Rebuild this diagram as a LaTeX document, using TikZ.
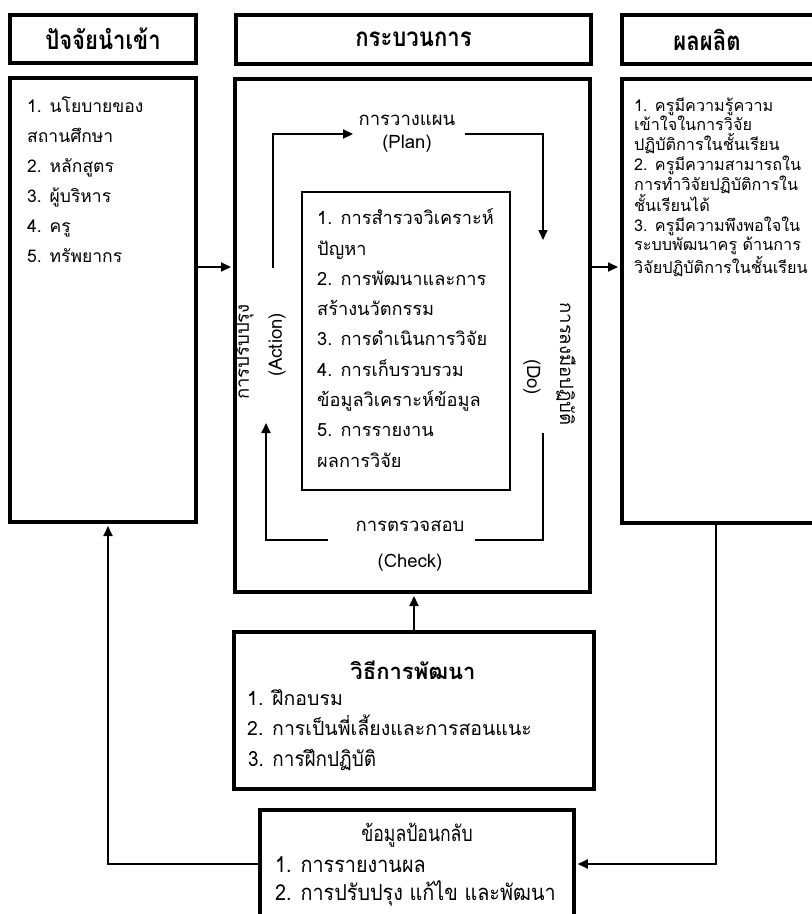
\documentclass[tikz,border=0pt]{standalone}
\usepackage{fontspec}
\setmainfont{Loma}[Script=Thai]
\newfontfamily\thaicond{Loma}[Script=Thai,FakeStretch=0.8]
\newfontfamily\thaisemi{Loma}[Script=Thai,FakeStretch=0.9]
\newfontfamily\thaihdr{Loma}[Script=Thai,FakeStretch=0.85]
\usetikzlibrary{arrows.meta,fit,calc}
\begin{document}
\begin{tikzpicture}[x=1pt,y=-1pt,
  hdr/.style={draw, line width=4.5pt, inner sep=0pt},
  bigbox/.style={draw, line width=4pt, inner sep=0pt},
  midbox/.style={draw, line width=3.5pt, inner sep=0pt},
  thinbox/.style={draw, line width=1.5pt, inner sep=0pt},
  hdrtext/.style={font=\thaihdr\bfseries\fontsize{26}{30}\selectfont, inner sep=0pt},
  lefttext/.style={font=\fontsize{17.5}{30}\selectfont, align=left, inner sep=0pt, anchor=west},
  innertext/.style={font=\fontsize{18.2}{30.3}\selectfont, align=left, inner sep=0pt, anchor=west},
  righttext/.style={font=\fontsize{16.2}{19.7}\selectfont, align=left, inner sep=0pt, anchor=west},
  devtext/.style={font=\fontsize{19.5}{30}\selectfont, align=left, inner sep=0pt, anchor=west},
  devcond/.style={font=\thaisemi\fontsize{21}{24}\selectfont, inner sep=0pt, anchor=west},
  fbtitle/.style={font=\thaicond\fontsize{22}{28}\selectfont, inner sep=0pt},
  fbtext/.style={font=\thaisemi\fontsize{22}{28}\selectfont, align=left, inner sep=0pt, anchor=west},
  lbl/.style={font=\fontsize{18.5}{22}\selectfont, inner sep=0pt},
  tip/.style={-{Triangle[length=10pt,width=9pt]}},
  arr/.style={line width=2pt, tip, shorten >=2pt},
  cyc/.style={line width=1.8pt},
  cycarr/.style={cyc, tip},
]
\useasboundingbox (0,0) rectangle (812,914);
\fill[white] (0,0) rectangle (812,914);

% header boxes
\node[hdr, fit={(10,15) (196,63)}] (h1) {};
\node[hdr, fit={(236,15) (591,64)}] (h2) {};
\node[hdr, fit={(622,15) (830,64)}] (h3) {};
\node[hdrtext] (h1t) at (h1) {ปัจจัยนำเข้า};
\node[hdrtext] (h2t) at (h2) {กระบวนการ};
\node[hdrtext] (h3t) at (707,39.5) {ผลผลิต};

% main boxes
\node[bigbox, fit={(10,78) (196,522)}] (L) {};
\node[bigbox, fit={(235,79) (590,592)}] (M) {};
\node[bigbox, fit={(622,79) (830,523)}] (R) {};
\node[thinbox, fit={(302,192) (510,490)}] (I) {};
\node[midbox, fit={(234,632) (594,789)}] (D) {};
\node[midbox, fit={(260,810) (574,935)}] (F) {};

% texts
\node[lefttext] (Ltext) at (27,180) {1. นโยบายของ\\สถานศึกษา\\2. หลักสูตร\\3. ผู้บริหาร\\4. ครู\\5. ทรัพยากร};
\node[innertext] (Itext) at (317,338) {1. การสำรวจวิเคราะห์\\ปัญหา\\2. การพัฒนาและการ\\สร้างนวัตกรรม\\3. การดำเนินการวิจัย\\4. การเก็บรวบรวม\\ข้อมูลวิเคราะห์ข้อมูล\\5. การรายงาน\\ผลการวิจัย};
\node[righttext] (Rtext) at (634,187) {1. ครูมีความรู้ความ\\เข้าใจในการวิจัย\\ปฏิบัติการในชั้นเรียน\\2. ครูมีความสามารถใน\\การทำวิจัยปฏิบัติการใน\\ชั้นเรียนได้\\3. ครูมีความพึงพอใจใน\\ระบบพัฒนาครู ด้านการ\\วิจัยปฏิบัติการในชั้นเรียน};

\node[font=\bfseries\fontsize{22}{24}\selectfont, inner sep=0pt] (Dt) at (413,670) {วิธีการพัฒนา};
\node[devtext] (Dtext) at (247,713) {1. ฝึกอบรม\\2. การเป็นพี่เลี้ยงและการสอนแนะ};
\node[devcond] (Dtext3) at (248,760) {3. การฝึกปฏิบัติ};

\node[fbtitle] (Ft) at (417,835) {ข้อมูลป้อนกลับ};
\node[fbtext] (Ftext) at (275,881) {1. การรายงานผล\\2. การปรับปรุง แก้ไข และพัฒนา};

% PDCA labels
\node[lbl, align=center] (plan) at (407,133.5) {การวางแผน\\[1pt](Plan)};
\node[lbl, align=center] (check) at (410,546) {การตรวจสอบ\\[14pt](Check)};
\node[lbl, rotate=90] (act1) at (244,352) {การปรับปรุง};
\node[lbl, rotate=90] (act2) at (277,345) {(Action)};
\node[lbl, rotate=-90] (do1) at (566,364) {การลงมือปฏิบัติ};
\node[lbl, rotate=-90] (do2) at (532,377) {(Do)};

% PDCA arrows
\coordinate (pa) at (273,268); \coordinate (pb) at (273,134); \coordinate (pc) at (353,134);
\coordinate (da) at (465,134); \coordinate (db) at (543,134); \coordinate (dc) at (543,240);
\coordinate (ca) at (543,433); \coordinate (cb) at (543,540); \coordinate (cc) at (475,540);
\coordinate (aa) at (328,540); \coordinate (ab) at (266,540); \coordinate (ac) at (266,423);
\draw[cycarr, line width=2.2pt] (pa) -- (pb) -- (pc);
\draw[cycarr, line width=1.6pt] (da) -- (db) -- (dc);
\draw[cyc, line width=1.6pt] (ca) -- (cb) -- (cc);
\draw[cycarr] (aa) -- (ab) -- (ac);

% connectors
\coordinate (rowA) at (0,267);
\draw[arr] (L.east |- rowA) -- (M.west |- rowA);
\draw[arr] (M.east |- rowA) -- (R.west |- rowA);
\draw[arr] (D.north) -- (D.north |- M.south);
\coordinate (fbrow) at (0,864);
\coordinate (lcol) at (108,0);
\coordinate (rcol) at (716,0);
\draw[arr] (F.west |- fbrow) -- (lcol |- fbrow) -- (lcol |- L.south);
\draw[arr] (rcol |- R.south) -- (rcol |- fbrow) -- (F.east |- fbrow);
\end{tikzpicture}
\end{document}
